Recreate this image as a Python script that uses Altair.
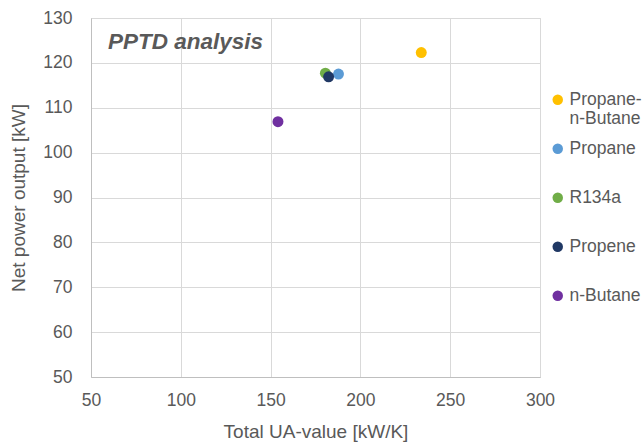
import altair as alt
import pandas as pd

fluids = ["Propane-n-Butane", "Propane", "R134a", "Propene", "n-Butane"]
ua_values = [233.9, 187.8, 180.5, 182.3, 154.1]
net_power = [122.3, 117.5, 117.7, 116.9, 106.9]
colors = ["#FFC000", "#5B9BD5", "#70AD47", "#203864", "#7030A0"]

df = pd.DataFrame({"fluid": fluids, "ua": ua_values, "power": net_power,
                   "order": list(range(len(fluids)))})

gray = "#595959"
font = "Liberation Sans"

chart = alt.Chart(df).mark_circle(size=120, opacity=1).encode(
    x=alt.X("ua:Q", title="Total UA-value [kW/K]",
            scale=alt.Scale(domain=[50, 300], nice=False),
            axis=alt.Axis(values=[50, 100, 150, 200, 250, 300], labelPadding=14,
                          titlePadding=14, labelFlush=False)),
    y=alt.Y("power:Q", title="Net power output [kW]",
            scale=alt.Scale(domain=[50, 130], nice=False, zero=False),
            axis=alt.Axis(values=list(range(50, 131, 10)), labelPadding=19,
                          titlePadding=14, labelFlush=False)),
    color=alt.Color("fluid:N", scale=alt.Scale(domain=fluids, range=colors),
                    sort=fluids,
                    legend=alt.Legend(title=None, orient="none", legendX=458, legendY=73,
                                      symbolType="circle", symbolSize=110,
                                      symbolOpacity=1, gridAlign="all",
                                      labelFontSize=17.5, labelColor=gray, labelFont=font,
                                      rowPadding=11, labelOffset=3,
                                      labelExpr="datum.label == 'Propane-n-Butane' ? ['Propane-', 'n-Butane'] : datum.label")),
    order=alt.Order("order:Q"),
).properties(
    width=449, height=359,
    title=alt.TitleParams("PPTD analysis", anchor="start", frame="group", dx=17, dy=48,
                          fontSize=22.5, fontStyle="italic", fontWeight="bold",
                          color=gray, font=font),
    autosize=alt.AutoSizeParams(type="none"),
    padding={"left": 91, "top": 18, "right": 104, "bottom": 67},
).configure_view(
    stroke="#D9D9D9", strokeWidth=1
).configure_axis(
    gridColor="#D9D9D9", domainColor="#BFBFBF", ticks=False,
    labelFontSize=17.5, labelColor=gray, labelFont=font,
    titleFontSize=19, titleColor=gray, titleFont=font, titleFontWeight="normal",
)

chart.save("out.html", embed_options={"renderer": "svg", "actions": False})
